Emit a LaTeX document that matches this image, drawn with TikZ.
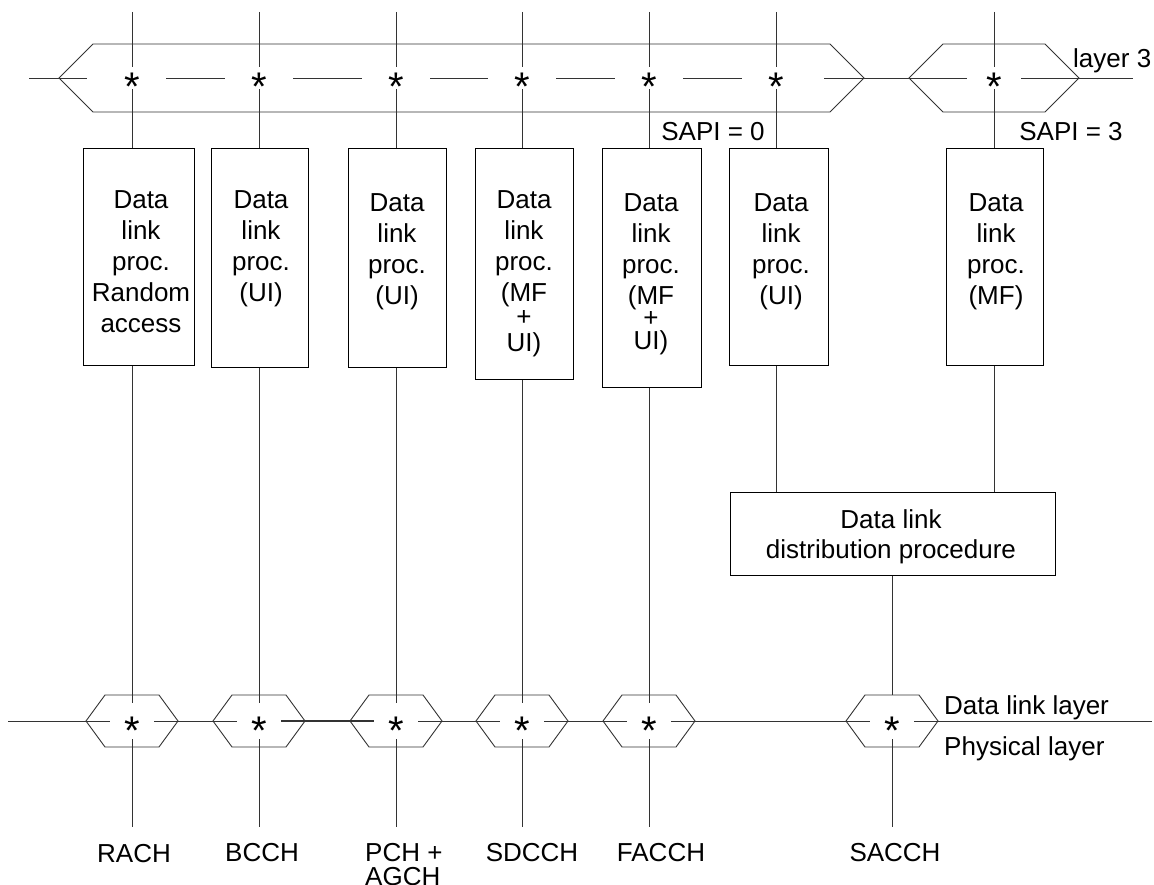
\documentclass[tikz,border=0pt]{standalone}
\usepackage{fontspec}
\setmainfont{Liberation Sans}
\usetikzlibrary{calc}
\newcommand{\stk}[2][c]{\begin{tabular}[t]{@{}#1@{}}#2\end{tabular}}
\newcommand{\stglyph}{\smash{\raisebox{-0.575em}{*}}}
\begin{document}
\begin{tikzpicture}[x=1pt,y=-1pt,
  txt/.style={font=\fontsize{26pt}{31pt}\selectfont, inner sep=0pt, anchor=base},
  ln/.style={line width=0.9pt, draw=black!80},
  boxn/.style={draw=black, line width=1pt, rectangle, inner sep=0pt, anchor=north west},
  tstar/.style={font=\fontsize{40pt}{40pt}\selectfont, inner sep=0pt, minimum width=68pt, minimum height=22pt},
  bstar/.style={font=\fontsize{40pt}{40pt}\selectfont, inner sep=0pt, minimum width=44pt, minimum height=36pt},
]
\useasboundingbox (0,0) rectangle (1154,885);

% ---------- boxes ----------
\node[boxn, minimum width=111pt, minimum height=217pt] (b1) at (83,148) {};
\node[boxn, minimum width=97pt,  minimum height=219pt] (b2) at (211,148) {};
\node[boxn, minimum width=98pt,  minimum height=219pt] (b3) at (348,148) {};
\node[boxn, minimum width=98pt,  minimum height=231pt] (b4) at (475,148) {};
\node[boxn, minimum width=99pt,  minimum height=239pt] (b5) at (602,148) {};
\node[boxn, minimum width=99pt,  minimum height=217pt] (b6) at (729,148) {};
\node[boxn, minimum width=97pt,  minimum height=217pt] (b7) at (946,148) {};
\node[boxn, minimum width=325pt, minimum height=83pt] (dist) at (730,492) {};

% ---------- box texts ----------
\node[txt] (tx1) at (141,209) {\stk{Data\\link\\proc.\\Random\\access}};
\node[txt] (tx2) at (261,209) {\stk{Data\\link\\proc.\\(UI)}};
\node[txt] (tx3) at (397,212) {\stk{Data\\link\\proc.\\(UI)}};
\node[txt] (tx4) at (524,209) {\stk{Data\\link\\proc.\\(MF\\[-7pt]+\\[-5pt]UI)}};
\node[txt] (tx5) at (651,212) {\stk{Data\\link\\proc.\\(MF\\[-9pt]+\\[-8pt]UI)}};
\node[txt] (tx6) at (781,212) {\stk{Data\\link\\proc.\\(UI)}};
\node[txt] (tx7) at (996,212) {\stk{Data\\link\\proc.\\(MF)}};
\node[txt, font=\fontsize{26pt}{30pt}\selectfont] (txd) at (891,528) {\stk{Data link\\distribution procedure}};

% ---------- top layer-3 hexagons ----------
\draw[ln] (93,44) -- (830,44) -- (864,78) -- (830,112) -- (93,112) -- (59,78) -- cycle;
\draw[ln] (943,44) -- (1045,44) -- (1079,78) -- (1045,112) -- (943,112) -- (909,78) -- cycle;

\foreach \i/\x in {1/132,2/259,3/396,4/522,5/649,6/776}
  \node[tstar] (s\i) at (\x,78) {\stglyph};
\node[tstar, minimum width=54pt] (s7) at (994,78) {\stglyph};

\foreach \i/\x in {1/132,2/259,3/396,4/522,5/649,6/776,7/994}
  \coordinate (t\i) at (\x,12);

\foreach \i in {1,...,7} {
  \draw[ln] (t\i) -- (s\i);
  \draw[ln] (s\i) -- (s\i |- b\i.north);
}

\coordinate (tl) at (29,78);
\coordinate (rp1) at (864,78);
\coordinate (lp2) at (909,78);
\coordinate (rp2) at (1079,78);
\coordinate (tr) at (1133,78);
\draw[ln, shorten >=11pt] (tl) -- (s1);
\draw[ln] (s1) -- (s2);
\draw[ln] (s2) -- (s3);
\draw[ln] (s3) -- (s4);
\draw[ln] (s4) -- (s5);
\draw[ln] (s5) -- (s6);
\draw[ln, shorten <=14pt] (s6) -- (rp1);
\draw[ln] (rp1) -- (lp2);
\draw[ln] (lp2) -- (s7);
\draw[ln] (s7) -- (rp2);
\draw[ln] (rp2) -- (tr);

\node[txt, anchor=base west] (l3) at (1073,68) {layer 3};
\node[txt] (sapi0) at (713,141) {SAPI = 0};
\node[txt] (sapi3) at (1071,141) {SAPI = 3};

% ---------- box 6/7 to distribution ----------
\draw[ln] (s6 |- b6.south) -- (s6 |- dist.north);
\draw[ln] (s7 |- b7.south) -- (s7 |- dist.north);

% ---------- bottom hexagons ----------
\foreach \i/\x in {1/132,2/259,3/396,4/522,5/649,6/892}
  \node[bstar] (h\i) at (\x,721) {\stglyph};
\foreach \i in {1,...,6}
  \draw[ln] ($(h\i)+(-46,0)$) -- ++(19,-26) -- ++(54,0) -- ++(19,26)
            -- ++(-19,26) -- ++(-54,0) -- cycle;

\coordinate (bl) at (8,721);
\coordinate (br) at (1152,721);
\draw[ln] (bl) -- (h1);
\draw[ln] (h1) -- (h2);
\draw[ln, line width=1.5pt] (h2) -- (h3);
\draw[ln] (h3) -- (h4);
\draw[ln] (h4) -- (h5);
\draw[ln] (h5) -- (h6);
\draw[ln] (h6) -- (br);

\foreach \i in {1,...,5}
  \draw[ln] (h\i |- b\i.south) -- (h\i);
\coordinate (h6top) at ($(h6)+(0,-26)$);
\draw[ln] (h6 |- dist.south) -- (h6top);

\foreach \i/\x in {1/132,2/259,3/396,4/522,5/649,6/892} {
  \coordinate (e\i) at (\x,827);
  \draw[ln] (h\i) -- (e\i);
}

\node[txt, anchor=base west] (dll) at (944,714) {Data link layer};
\node[txt, anchor=base west] (phl) at (944,755) {Physical layer};

% ---------- channel labels ----------
\node[txt] (rach) at (134,862) {RACH};
\node[txt] (bcch) at (262,861) {BCCH};
\node[txt, anchor=base west] (pch) at (365,861) {\stk[l]{PCH +\\[-7pt]AGCH}};
\node[txt] (sdcch) at (532,861) {SDCCH};
\node[txt] (facch) at (661,861) {FACCH};
\node[txt] (sacch) at (895,861) {SACCH};
\end{tikzpicture}
\end{document}
